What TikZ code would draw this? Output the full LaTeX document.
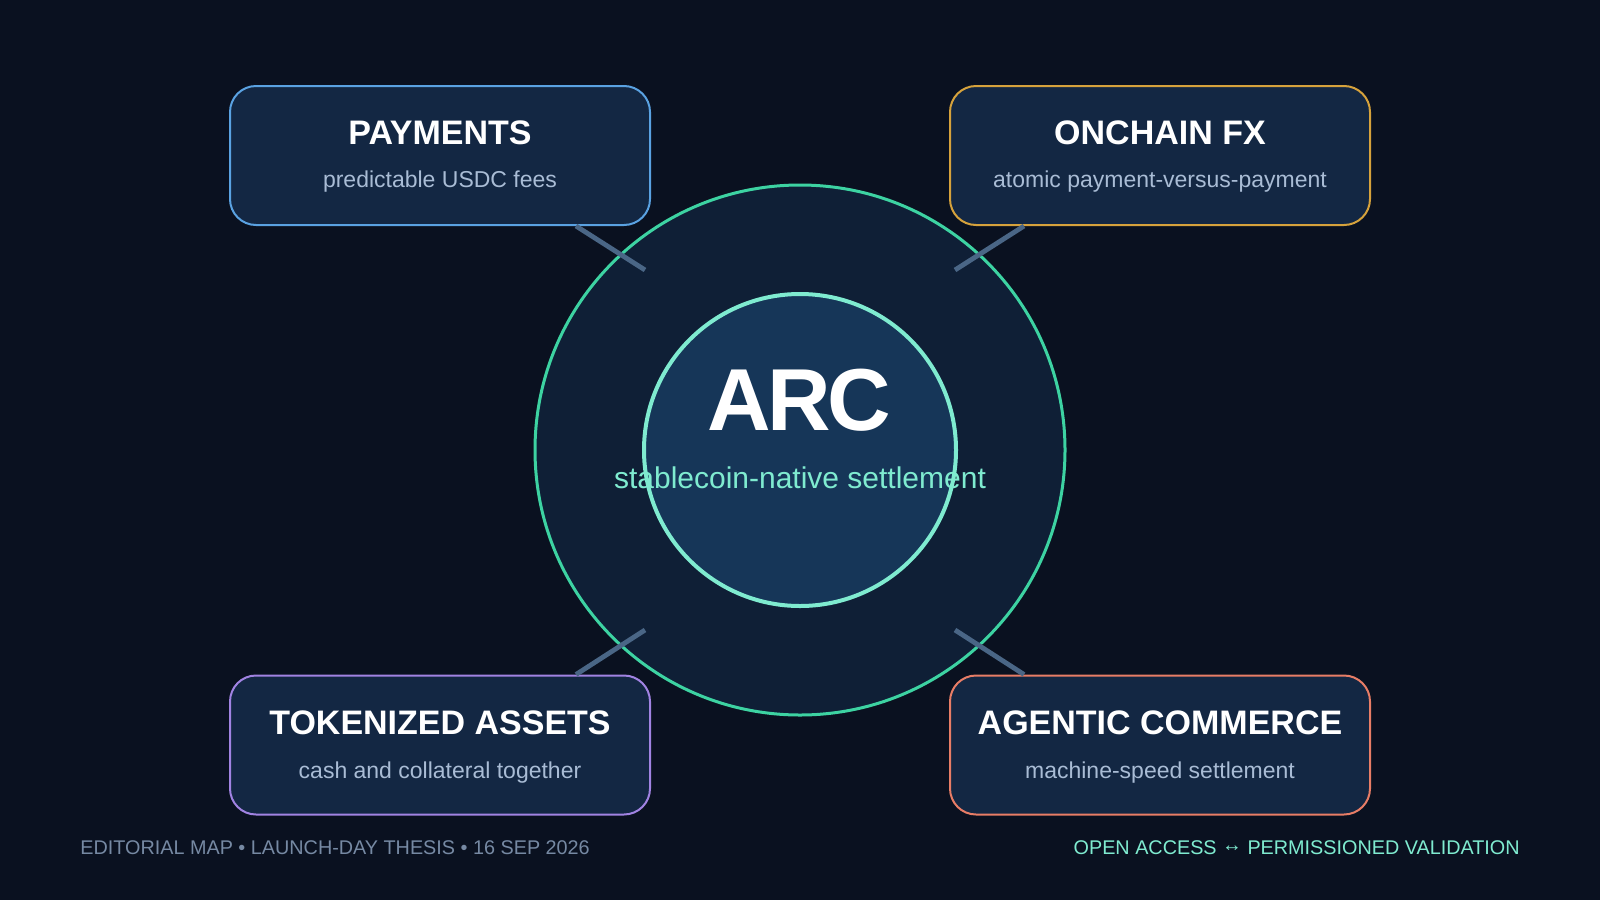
\documentclass[tikz,border=0pt]{standalone}
\usepackage{fontspec}
\setmainfont{Liberation Sans}
\usepackage{tikz}
\usetikzlibrary{positioning}
\definecolor{bgnavy}{HTML}{0A1120}
\definecolor{cardfill}{HTML}{132743}
\definecolor{ringfill}{HTML}{0F1F36}
\definecolor{corefill}{HTML}{163658}
\definecolor{ringgreen}{HTML}{3DD3A2}
\definecolor{coremint}{HTML}{7FEBD0}
\definecolor{linkslate}{HTML}{4A6686}
\definecolor{subgrey}{HTML}{A9BCD5}
\definecolor{footgrey}{HTML}{7689A3}
\definecolor{paycol}{HTML}{5AA2E2}
\definecolor{fxcol}{HTML}{D6A23C}
\definecolor{tokcol}{HTML}{A183E2}
\definecolor{agtcol}{HTML}{E87D66}
\tikzset{
    card/.style={fill=cardfill, line width=1pt, rounded corners=13pt, minimum width=210pt, minimum height=69.5pt, inner sep=0pt},
    cardtitle/.style={anchor=base, inner sep=0pt, text=white, font=\fontsize{17}{20}\selectfont\bfseries},
    cardsub/.style={anchor=base, inner sep=0pt, text=subgrey, font=\fontsize{11.5}{14}\selectfont},
    link/.style={draw=linkslate, line width=2.4pt},
    footline/.style={inner sep=0pt, font=\fontsize{9.9}{12}\selectfont}
}
\begin{document}
\begin{tikzpicture}[x=0.5pt,y=-0.5pt]
    \fill[bgnavy] (0,0) rectangle (1600,900);
    \useasboundingbox (0,0) rectangle (1600,900);

    % hub
    \node[circle, draw=ringgreen, fill=ringfill, line width=1.5pt, minimum size=265pt] (ring) at (800,450) {};
    \node[circle, draw=coremint, fill=corefill, line width=2pt, minimum size=156pt] (core) at (800,450) {};

    % spoke ends
    \coordinate (payend) at (645,270);
    \coordinate (fxend) at (955,270);
    \coordinate (tokend) at (645,630);
    \coordinate (agtend) at (955,630);

    % cards
    \node[card, draw=paycol] (pay) at (440,155.5) {};
    \node[card, draw=fxcol] (fx) at (1160,155.5) {};
    \node[card, draw=tokcol] (tok) at (440,745) {};
    \node[card, draw=agtcol] (agt) at (1160,745) {};

    \draw[link] (pay.south) ++(136,0) -- (payend);
    \draw[link] (fx.south) ++(-136,0) -- (fxend);
    \draw[link] (tok.north) ++(136,0) -- (tokend);
    \draw[link] (agt.north) ++(-136,0) -- (agtend);

    \node[cardtitle] (paytitle) at (440,144) {PAYMENTS};
    \node[cardsub] (paysub) at (440,187) {predictable USDC fees};
    \node[cardtitle] (fxtitle) at (1160,144) {ONCHAIN FX};
    \node[cardsub] (fxsub) at (1160,187) {atomic payment-versus-payment};
    \node[cardtitle] (toktitle) at (440,734) {TOKENIZED ASSETS};
    \node[cardsub] (toksub) at (440,778) {cash and collateral together};
    \node[cardtitle] (agttitle) at (1160,734) {AGENTIC COMMERCE};
    \node[cardsub] (agtsub) at (1160,778) {machine-speed settlement};

    % centre text
    \node[anchor=base, inner sep=0pt, text=white, font=\fontsize{44}{50}\selectfont\bfseries] (arc) at (799,430) {A\kern-1.8pt R\kern-1.8pt C};
    \node[anchor=base, inner sep=0pt, text=coremint, font=\fontsize{15}{18}\selectfont] (arcsub) at (800,488) {stablecoin-native settlement};

    % footer
    \node[footline, anchor=base west, text=footgrey] (edmap) at (80,854) {EDITORIAL MAP • LAUNCH-DAY THESIS • 16 SEP 2026};
    \node[footline, anchor=base east, text=coremint] (access) at (1520,854) {OPEN ACCESS \raisebox{1.5pt}{↔} PERMISSIONED VALIDATION};
\end{tikzpicture}
\end{document}
